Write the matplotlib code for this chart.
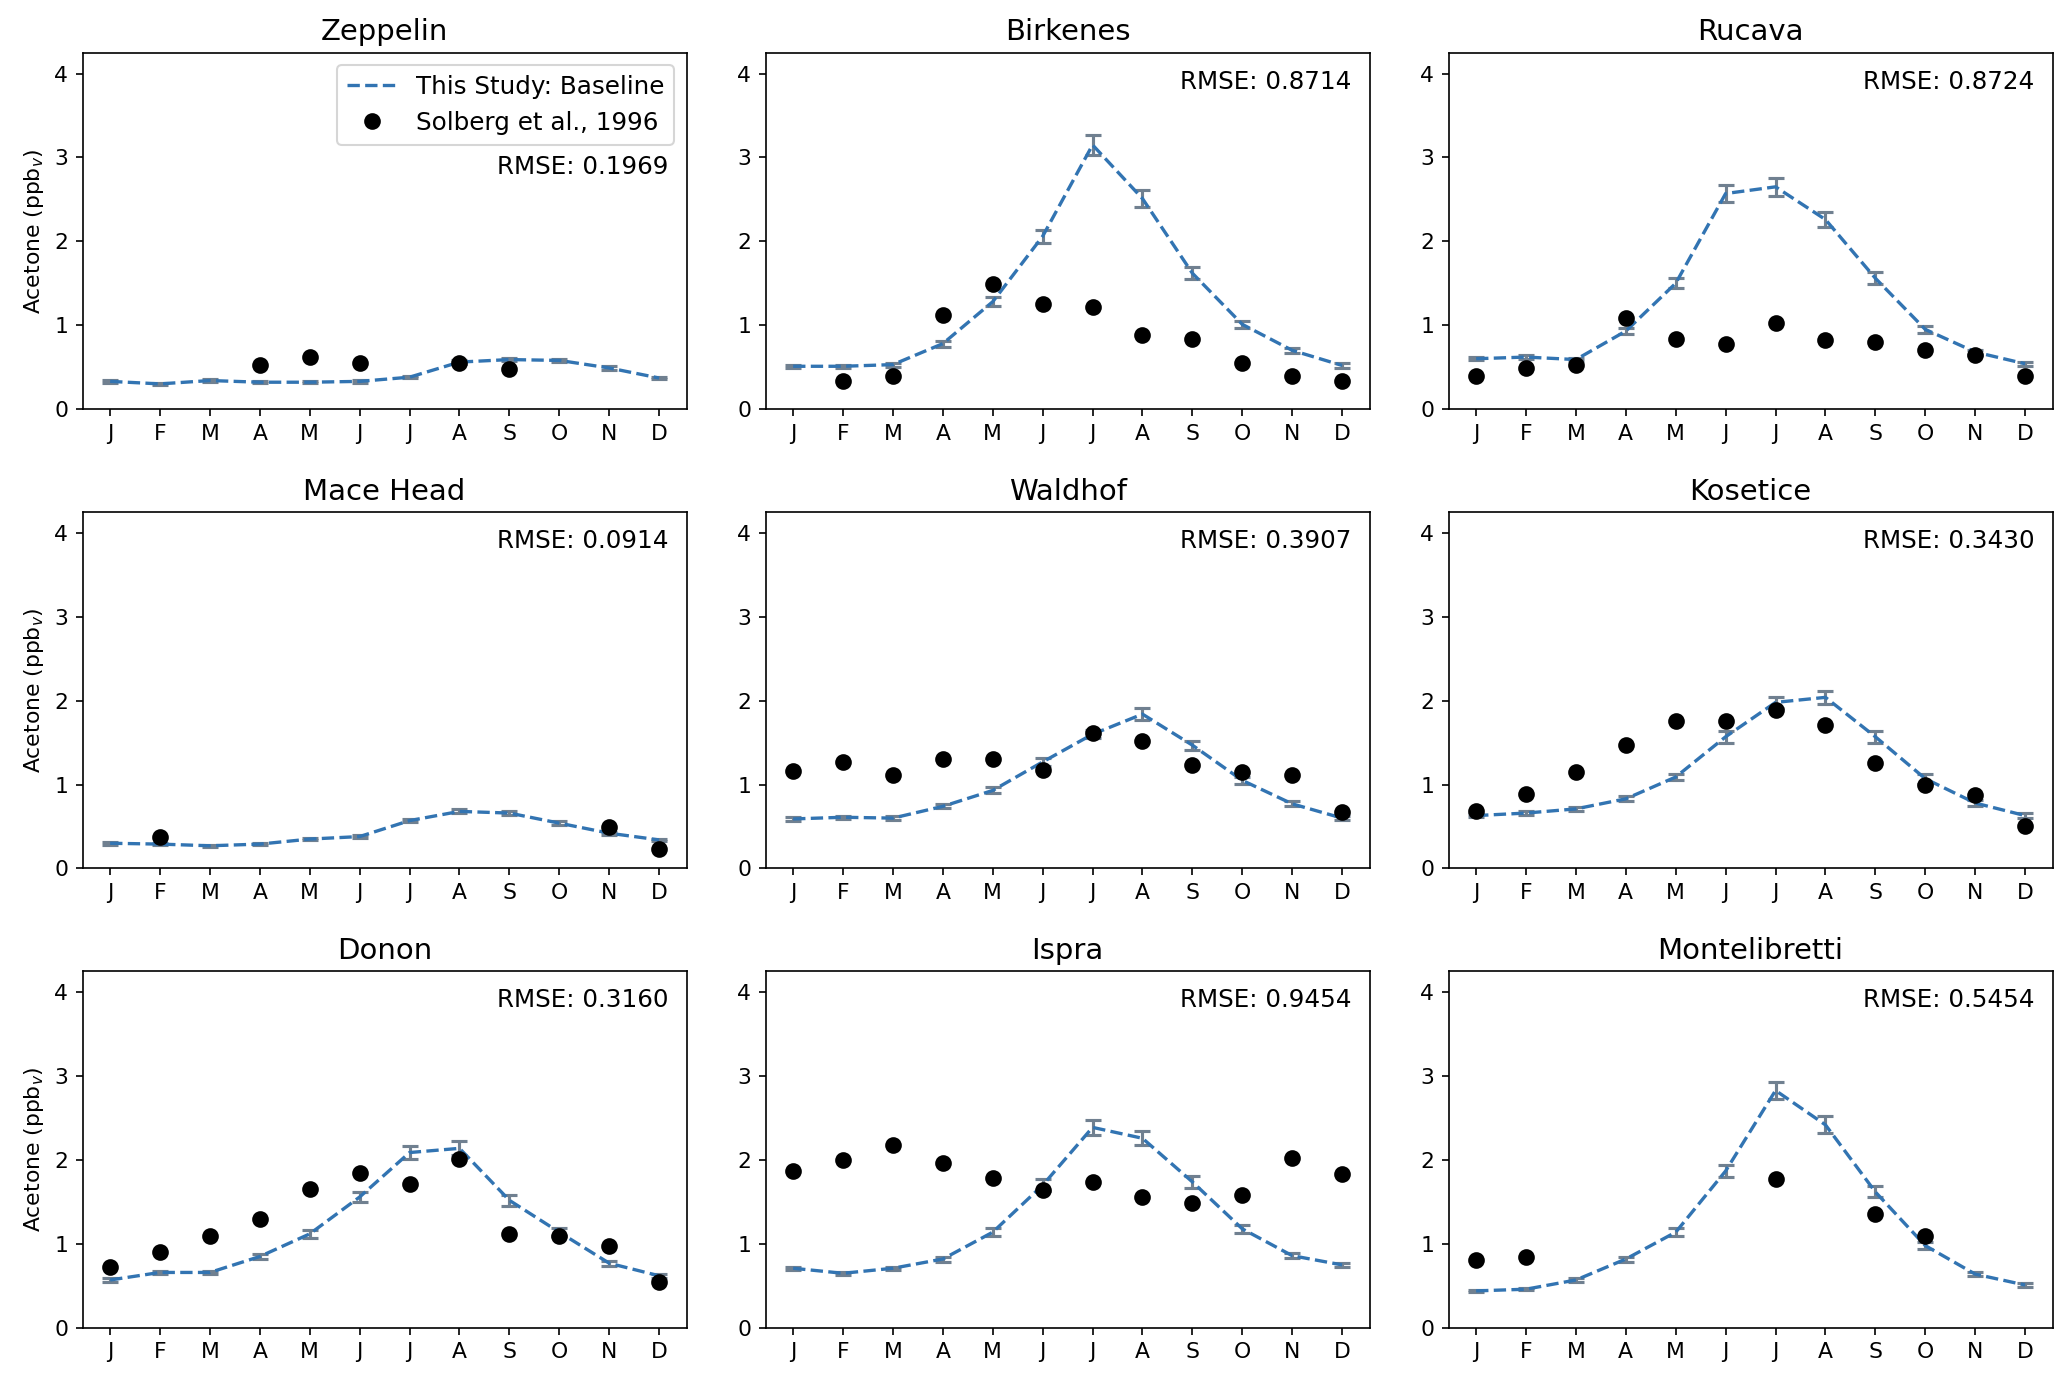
import numpy as np
import matplotlib.pyplot as plt

months = ["J", "F", "M", "A", "M", "J", "J", "A", "S", "O", "N", "D"]
stations = ["Zeppelin", "Birkenes", "Rucava",
            "Mace Head", "Waldhof", "Kosetice",
            "Donon", "Ispra", "Montelibretti"]
rmse = [0.1969, 0.8714, 0.8724, 0.0914, 0.3907, 0.3430, 0.3160, 0.9454, 0.5454]

nan = np.nan

# model baseline (ppbv)
model_zeppelin = [0.33, 0.30, 0.34, 0.32, 0.32, 0.33, 0.38, 0.56, 0.59, 0.58, 0.49, 0.37]
model_birkenes = [0.51, 0.51, 0.53, 0.78, 1.28, 2.06, 3.15, 2.51, 1.62, 1.01, 0.70, 0.52]
model_rucava = [0.60, 0.62, 0.59, 0.93, 1.50, 2.57, 2.65, 2.26, 1.56, 0.95, 0.68, 0.54]
model_macehead = [0.30, 0.29, 0.27, 0.29, 0.35, 0.38, 0.57, 0.68, 0.66, 0.54, 0.42, 0.34]
model_waldhof = [0.59, 0.61, 0.60, 0.74, 0.93, 1.27, 1.60, 1.84, 1.47, 1.05, 0.77, 0.60]
model_kosetice = [0.63, 0.66, 0.71, 0.83, 1.09, 1.57, 1.98, 2.04, 1.57, 1.07, 0.78, 0.63]
model_donon = [0.57, 0.66, 0.66, 0.85, 1.12, 1.56, 2.09, 2.14, 1.52, 1.14, 0.77, 0.62]
model_ispra = [0.71, 0.65, 0.71, 0.82, 1.14, 1.70, 2.39, 2.26, 1.74, 1.18, 0.86, 0.75]
model_montelibretti = [0.44, 0.46, 0.57, 0.82, 1.14, 1.87, 2.83, 2.42, 1.62, 0.98, 0.64, 0.51]

# model spread (error bar half-width)
err_zeppelin = [0.015, 0.015, 0.015, 0.015, 0.015, 0.015, 0.015, 0.02, 0.02, 0.02, 0.02, 0.015]
err_birkenes = [0.02, 0.02, 0.025, 0.035, 0.055, 0.08, 0.12, 0.10, 0.07, 0.04, 0.03, 0.025]
err_rucava = [0.02, 0.02, 0.02, 0.04, 0.06, 0.10, 0.11, 0.09, 0.07, 0.04, 0.03, 0.025]
err_macehead = [0.015, 0.015, 0.015, 0.015, 0.015, 0.015, 0.02, 0.025, 0.025, 0.02, 0.02, 0.015]
err_waldhof = [0.02, 0.02, 0.02, 0.025, 0.035, 0.05, 0.05, 0.07, 0.055, 0.04, 0.03, 0.02]
err_kosetice = [0.02, 0.02, 0.02, 0.03, 0.04, 0.07, 0.07, 0.08, 0.07, 0.06, 0.03, 0.025]
err_donon = [0.02, 0.02, 0.02, 0.03, 0.045, 0.065, 0.08, 0.085, 0.065, 0.05, 0.03, 0.025]
err_ispra = [0.02, 0.02, 0.02, 0.03, 0.045, 0.07, 0.09, 0.085, 0.07, 0.045, 0.03, 0.025]
err_montelibretti = [0.015, 0.015, 0.02, 0.03, 0.045, 0.075, 0.10, 0.10, 0.065, 0.04, 0.02, 0.02]

# Solberg et al., 1996 observations
obs_zeppelin = [nan, nan, nan, 0.53, 0.62, 0.55, nan, 0.55, 0.48, nan, nan, nan]
obs_birkenes = [nan, 0.33, 0.40, 1.12, 1.49, 1.25, 1.22, 0.88, 0.83, 0.55, 0.39, 0.33]
obs_rucava = [0.39, 0.49, 0.52, 1.08, 0.83, 0.77, 1.03, 0.82, 0.80, 0.70, 0.64, 0.39]
obs_macehead = [nan, 0.38, nan, nan, nan, nan, nan, nan, nan, nan, 0.49, 0.23]
obs_waldhof = [1.16, 1.27, 1.11, 1.31, 1.31, 1.17, 1.62, 1.52, 1.23, 1.15, 1.11, 0.67]
obs_kosetice = [0.69, 0.89, 1.15, 1.47, 1.76, 1.76, 1.89, 1.71, 1.26, 0.99, 0.88, 0.50]
obs_donon = [0.73, 0.90, 1.10, 1.30, 1.66, 1.84, 1.72, 2.01, 1.12, 1.10, 0.97, 0.55]
obs_ispra = [1.87, 2.00, 2.18, 1.96, 1.79, 1.64, 1.74, 1.56, 1.49, 1.58, 2.02, 1.83]
obs_montelibretti = [0.81, 0.85, nan, nan, nan, nan, 1.78, nan, 1.36, 1.09, nan, nan]

models = [model_zeppelin, model_birkenes, model_rucava, model_macehead, model_waldhof,
          model_kosetice, model_donon, model_ispra, model_montelibretti]
errs = [err_zeppelin, err_birkenes, err_rucava, err_macehead, err_waldhof,
        err_kosetice, err_donon, err_ispra, err_montelibretti]
obs = [obs_zeppelin, obs_birkenes, obs_rucava, obs_macehead, obs_waldhof,
       obs_kosetice, obs_donon, obs_ispra, obs_montelibretti]

x = np.arange(12)
fig, axes = plt.subplots(3, 3, figsize=(13.78, 9.24))
for i, ax in enumerate(axes.flat):
    ax.errorbar(x, models[i], yerr=errs[i], fmt="none", ecolor="slategray",
                capsize=4, elinewidth=1.5, capthick=1.5)
    ax.plot(x, models[i], "--", color="#3274b2", lw=1.6, label="This Study: Baseline")
    ax.plot(x, obs[i], "o", color="black", ms=7, label="Solberg et al., 1996")
    ax.set_xticks(x)
    ax.set_xticklabels(months)
    ax.set_ylim(0, 4.25)
    ax.set_yticks([0, 1, 2, 3, 4])
    ax.tick_params(labelsize=10.5)
    ax.set_title(stations[i], fontsize=14)
    if i % 3 == 0:
        ax.set_ylabel("Acetone (ppb$_v$)", fontsize=10.5)
    if i == 0:
        ax.legend(loc="upper right", fontsize=11.8)
        ax.text(0.97, 0.68, "RMSE: %.4f" % rmse[i], transform=ax.transAxes,
                ha="right", va="center", fontsize=11.8)
    else:
        ax.text(0.97, 0.919, "RMSE: %.4f" % rmse[i], transform=ax.transAxes,
                ha="right", va="center", fontsize=11.8)

plt.subplots_adjust(left=0.04, right=0.993, top=0.962, bottom=0.042,
                    wspace=0.131, hspace=0.289)
plt.savefig("out.png", dpi=150)
